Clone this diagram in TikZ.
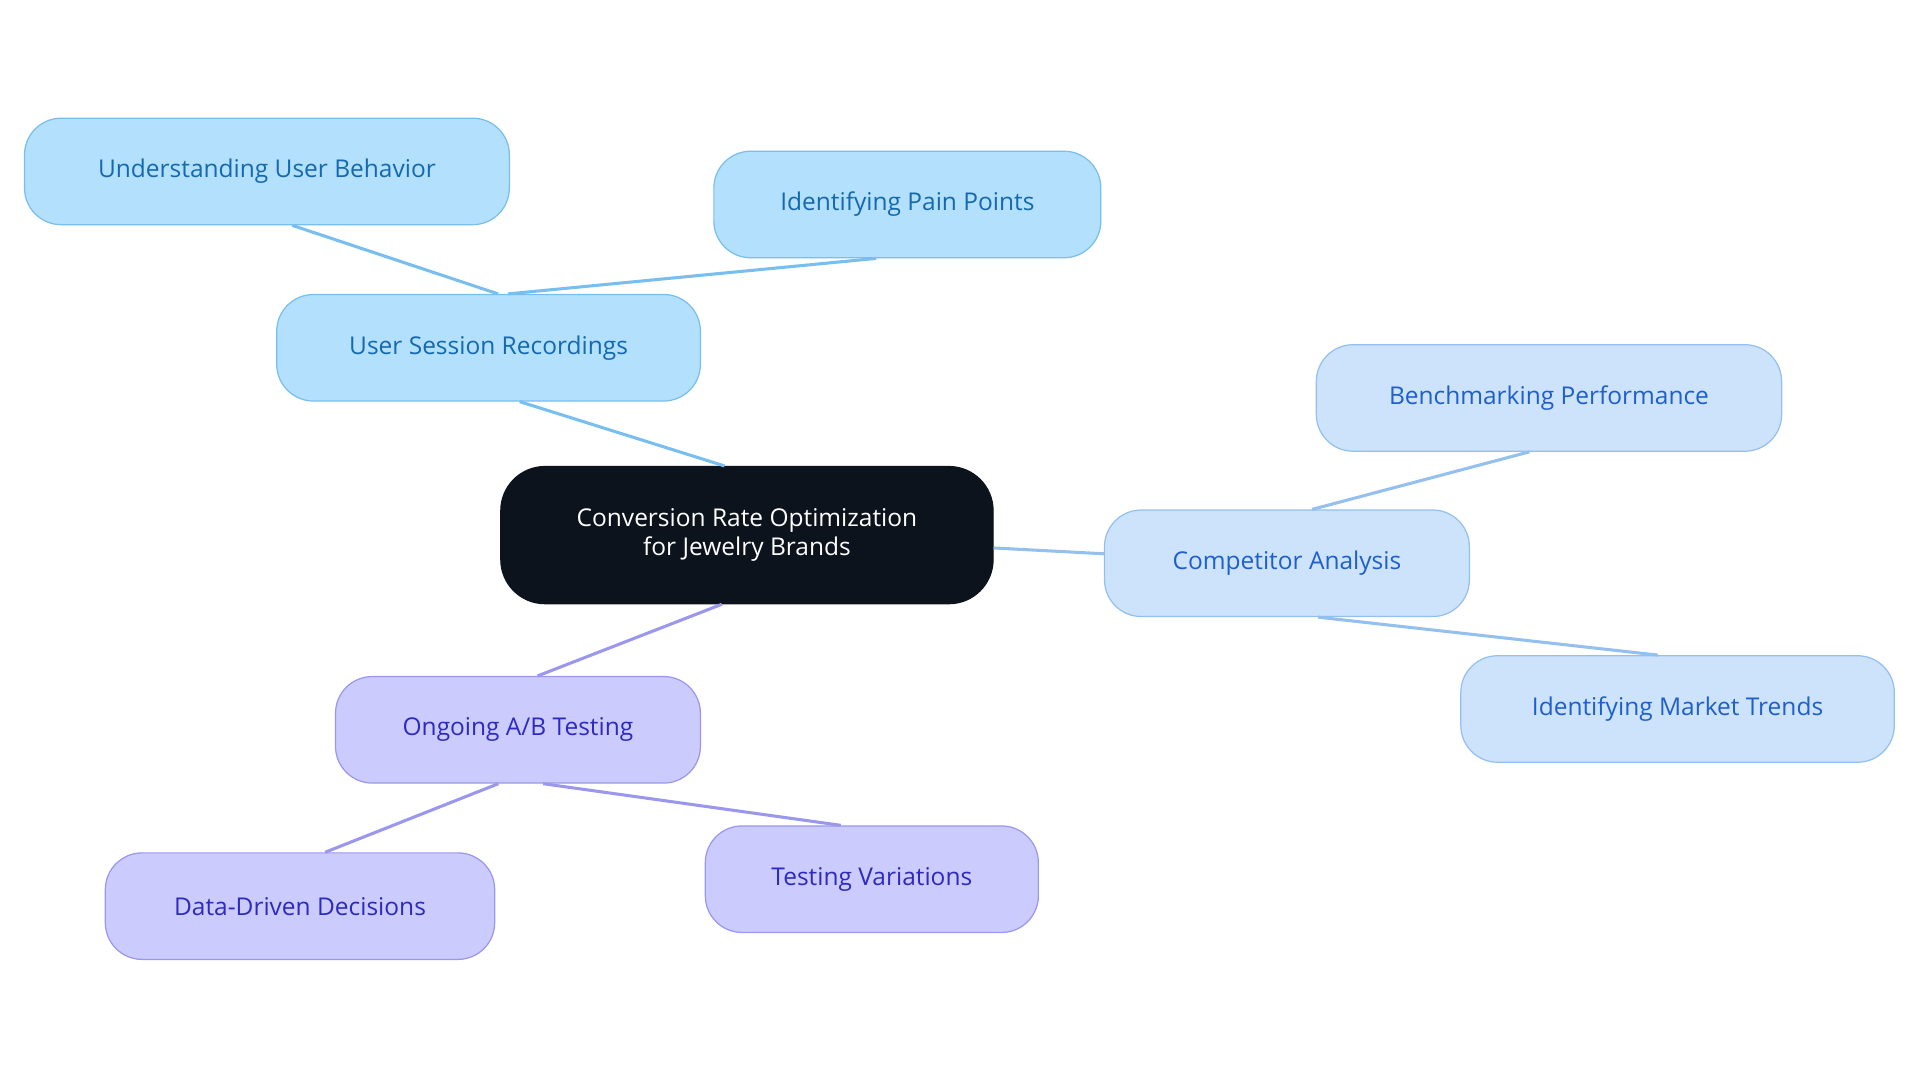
\documentclass[tikz,border=0pt]{standalone}
\usepackage{fontspec}
\setmainfont{Open Sans}
\definecolor{cdark}{HTML}{0D131C}
\definecolor{bfill}{HTML}{B3E0FD}\definecolor{bline}{HTML}{78BFEF}\definecolor{btext}{HTML}{1469B0}
\definecolor{cfill}{HTML}{CCE3FB}\definecolor{cline}{HTML}{94C0F0}\definecolor{ctext}{HTML}{1F5FCC}
\definecolor{pfill}{HTML}{CBCBFD}\definecolor{pline}{HTML}{9B97EE}\definecolor{ptext}{HTML}{2E2AC0}
\tikzset{
 box/.style={rectangle,rounded corners=30pt,minimum height=87pt,line width=1pt,font=\fontsize{20}{24}\selectfont,align=center,inner sep=0pt},
 bbox/.style={box,fill=bfill,draw=bline,text=btext},
 cbox/.style={box,fill=cfill,draw=cline,text=ctext},
 pbox/.style={box,fill=pfill,draw=pline,text=ptext},
 edge/.style={line width=2.5pt}
}
\begin{document}
\begin{tikzpicture}[x=1pt,y=-1pt]
\useasboundingbox (0,0) rectangle (1568,884);
\node[box,fill=cdark,draw=cdark,text=white,minimum width=402pt,minimum height=112pt,rounded corners=36pt] (root) at (610,437) {Conversion Rate Optimization\\for Jewelry Brands};
\node[bbox,minimum width=346pt] (usr) at (399,284) {User Session Recordings};
\node[bbox,minimum width=396pt] (uub) at (218,140) {Understanding User Behavior};
\node[bbox,minimum width=316pt] (ipp) at (741,167) {Identifying Pain Points};
\node[cbox,minimum width=298pt] (ca) at (1051,460) {Competitor Analysis};
\node[cbox,minimum width=380pt] (bp) at (1265,325) {Benchmarking Performance};
\node[cbox,minimum width=354pt] (imt) at (1370,579) {Identifying Market Trends};
\node[pbox,minimum width=298pt] (ab) at (423,596) {Ongoing A/B Testing};
\node[pbox,minimum width=318pt] (ddd) at (245,740) {Data-Driven Decisions};
\node[pbox,minimum width=272pt] (tv) at (712,718) {Testing Variations};
\draw[edge,bline] (root.108) -- (usr.300);
\draw[edge,bline] (usr.80) -- (uub.295);
\draw[edge,bline] (usr.70) -- (ipp.240);
\draw[edge,cline] (root) -- (ca);
\draw[edge,cline] (ca.65) -- (bp.250);
\draw[edge,cline] (ca.300) -- (imt.110);
\draw[edge,pline] (root.250) -- (ab.70);
\draw[edge,pline] (ab.250) -- (ddd.65);
\draw[edge,pline] (ab.295) -- (tv.120);
\end{tikzpicture}
\end{document}
